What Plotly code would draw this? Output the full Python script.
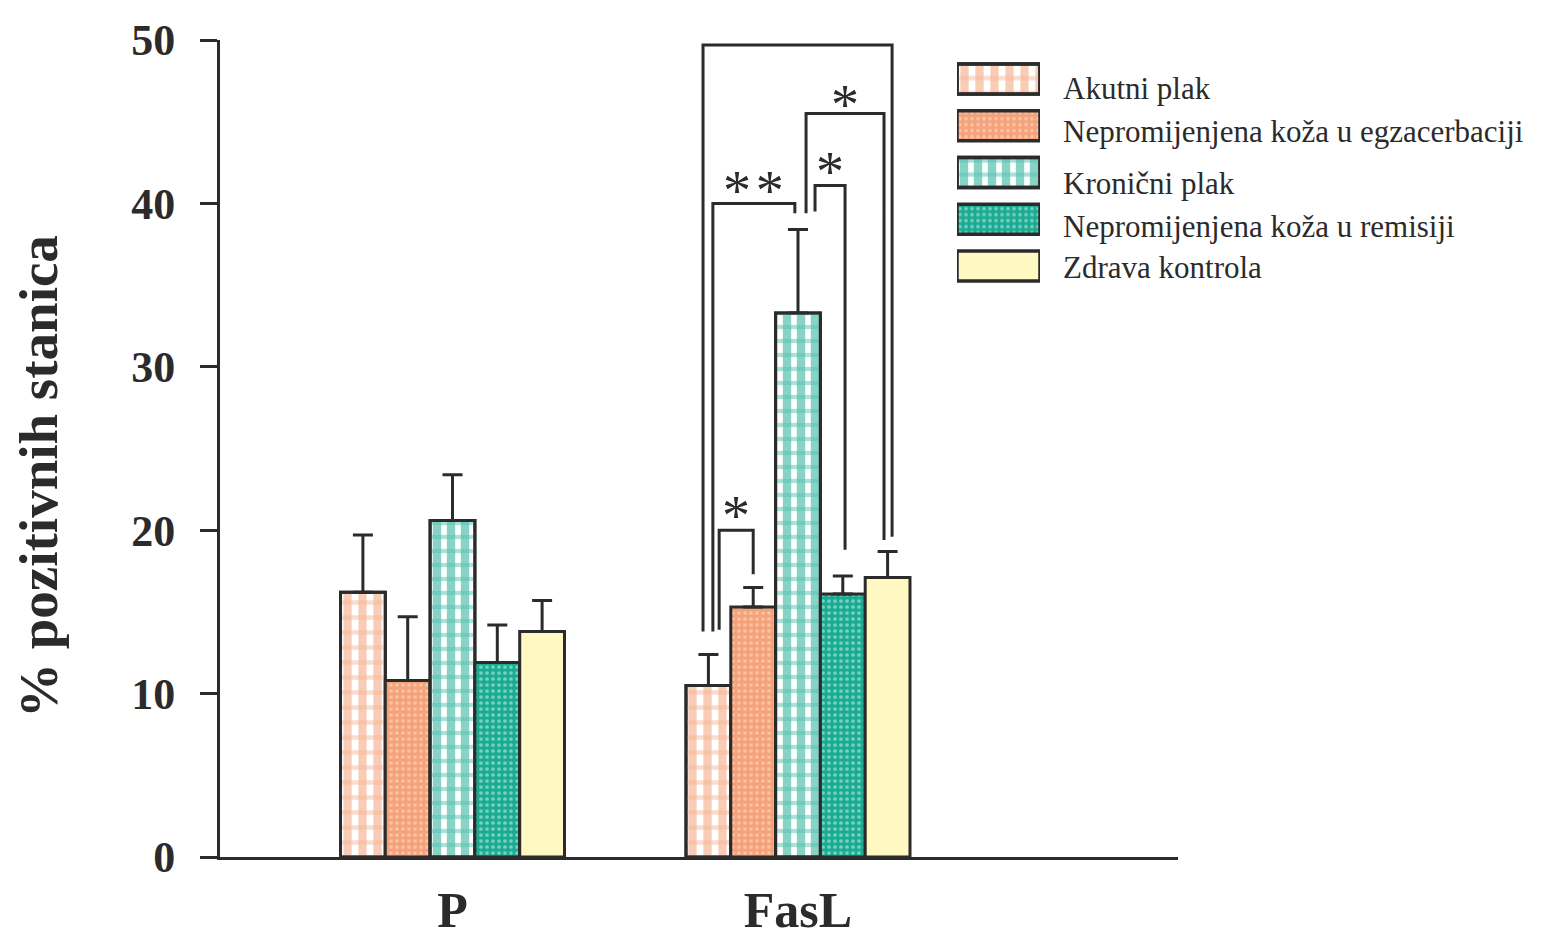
import plotly.graph_objects as go

# ---------------- data ----------------
groups = ["P", "FasL"]
series = ["Akutni plak",
          "Nepromijenjena koža u egzacerbaciji",
          "Kronični plak",
          "Nepromijenjena koža u remisiji",
          "Zdrava kontrola"]

akutni = [16.2, 10.5]
egzacerbacija = [10.8, 15.3]
kronicni = [20.6, 33.3]
remisija = [11.9, 16.1]
zdrava = [13.8, 17.1]

akutni_err = [3.5, 1.9]
egzacerbacija_err = [3.9, 1.2]
kronicni_err = [2.8, 5.1]
remisija_err = [2.3, 1.1]
zdrava_err = [1.9, 1.6]

values = [akutni, egzacerbacija, kronicni, remisija, zdrava]
errors = [akutni_err, egzacerbacija_err, kronicni_err, remisija_err, zdrava_err]

y_ticks = [0, 10, 20, 30, 40, 50]

# significance comparisons within FasL group: (bar a, bar b, label)
comparisons = [(0, 4, "*"), (0, 2, "*\u200a*"), (0, 1, "*"), (2, 4, "*"), (2, 3, "*")]

# ---------------- styling ----------------
INK = "#2b2b2b"
PAGE_OFF = 8                      # body margin of the page
W_FIG, H_FIG = 1543 - PAGE_OFF, 939 - PAGE_OFF
SERIF = "Liberation Serif"


def px_x(px):
    return (px - PAGE_OFF) / W_FIG


def px_y(py):
    return 1 - (py - PAGE_OFF) / H_FIG


styles = [
    dict(color="white", pattern=dict(shape="|", fgcolor="#F39A70", bgcolor="white", size=15, solidity=0.55),
         over=dict(shape="-", fgcolor="#F6BA99", bgcolor="rgba(0,0,0,0)", size=15, solidity=0.3)),
    dict(color="#F5A27B", pattern=dict(shape=".", fgcolor="#FFE4D2", bgcolor="#F5A27B", size=6, solidity=0.3),
         over=None),
    dict(color="white", pattern=dict(shape="|", fgcolor="#12A88D", bgcolor="white", size=14, solidity=0.6),
         over=dict(shape="-", fgcolor="#58C4B1", bgcolor="rgba(0,0,0,0)", size=14, solidity=0.3)),
    dict(color="#19AC92", pattern=dict(shape=".", fgcolor="#D8F3EE", bgcolor="#19AC92", size=6, solidity=0.3),
         over=None),
    dict(color="#FFF8C2", pattern=None, over=None),
]

# geometry (viewport pixels of the reference)
px_left, px_right = 220, 1178
px_top, px_bottom = 40, 857
center_P, center_F = 452.5, 798.0
unit = center_F - center_P
bar_w = 44.8 / unit
x_range = [(px_left - center_P) / unit, (px_right - center_P) / unit]

fig = go.Figure()

for i, name in enumerate(series):
    st = styles[i]
    off = (i - 2.5) * bar_w
    marker = dict(color=st["color"], line=dict(color=INK, width=3))
    if st["pattern"]:
        marker["pattern"] = st["pattern"]
    fig.add_trace(go.Bar(
        x=groups, y=values[i], name=name, offset=off, width=bar_w,
        marker=marker,
        error_y=dict(type="data", symmetric=False, array=errors[i],
                     arrayminus=[0] * len(groups), color=INK, thickness=3, width=10),
        showlegend=False, xaxis="x", yaxis="y"))
    if st["over"]:
        fig.add_trace(go.Bar(
            x=groups, y=values[i], name=name, offset=off, width=bar_w,
            marker=dict(color="rgba(0,0,0,0)", line=dict(color=INK, width=3), pattern=st["over"]),
            showlegend=False, hoverinfo="skip", xaxis="x", yaxis="y"))

# ---------- legend built as a small bar subplot ----------
for i, name in enumerate(series):
    st = styles[i]
    marker = dict(color=st["color"], line=dict(color=INK, width=3.5))
    if st["pattern"]:
        marker["pattern"] = st["pattern"]
    fig.add_trace(go.Bar(x=[1], y=[name], orientation="h", base=0, width=0.64,
                         marker=marker, showlegend=False, xaxis="x2", yaxis="y2",
                         hoverinfo="skip"))
    if st["over"]:
        fig.add_trace(go.Bar(x=[1], y=[name], orientation="h", base=0, width=0.64,
                             marker=dict(color="rgba(0,0,0,0)", line=dict(color=INK, width=3.5),
                                         pattern=st["over"]),
                             showlegend=False, xaxis="x2", yaxis="y2", hoverinfo="skip"))

leg_text_y = [88, 131, 183, 226, 267]
annotations = []
for i, name in enumerate(series):
    annotations.append(dict(text=name, x=px_x(1061), y=px_y(leg_text_y[i]),
                            xref="paper", yref="paper", xanchor="left", yanchor="middle",
                            showarrow=False, font=dict(family=SERIF, size=31, color=INK)))

# y-axis title
annotations.append(dict(text="<b>% pozitivnih stanica</b>", x=px_x(38), y=px_y(477),
                        xref="paper", yref="paper", textangle=-90, showarrow=False,
                        xanchor="center", yanchor="middle",
                        font=dict(family=SERIF, size=55, color=INK)))

# ---------- significance brackets ----------
# per comparison: left nudge, right nudge (in bar widths), left foot, top, right foot, label y
bracket_geom = [
    (-0.12, 0.10, 13.8, 49.7, 19.6, 50.9),
    (0.10, -0.07, 13.8, 40.0, 39.4, 41.3),
    (0.24, 0.00, 13.9, 20.0, 17.3, 21.4),
    (0.18, -0.08, 39.4, 45.5, 19.4, 46.6),
    (0.38, 0.05, 39.5, 41.1, 18.8, 42.5),
]
shapes = []
g = 1  # FasL
for (a, b, lab), (na, nb, ya, yt, yb, ly) in zip(comparisons, bracket_geom):
    xa = g + (a - 2) * bar_w + na * bar_w
    xb = g + (b - 2) * bar_w + nb * bar_w
    shapes.append(dict(type="path", xref="x", yref="y",
                       path=f"M {xa},{ya} L {xa},{yt} L {xb},{yt} L {xb},{yb}",
                       line=dict(color=INK, width=3)))
    annotations.append(dict(text=lab, x=(xa + xb) / 2, y=ly, xref="x", yref="y",
                            showarrow=False, xanchor="center", yanchor="middle", yshift=-9,
                            font=dict(family=SERIF, size=56, color=INK)))

fig.update_layout(
    width=W_FIG, height=H_FIG,
    margin=dict(l=0, r=0, t=0, b=0, autoexpand=False),
    paper_bgcolor="white", plot_bgcolor="rgba(0,0,0,0)",
    barmode="overlay",
    showlegend=False,
    xaxis=dict(domain=[px_x(px_left), px_x(px_right)], range=x_range,
               type="category", categoryarray=groups, automargin=False,
               showline=True, linecolor=INK, linewidth=3, ticks="", showgrid=False,
               zeroline=False, tickfont=dict(family=SERIF, size=50, color=INK),
               tickvals=groups, ticktext=[f"<b>{t}</b>" for t in groups],
               ticklabelstandoff=7, anchor="y"),
    yaxis=dict(domain=[px_y(px_bottom), px_y(px_top)], range=[0, 50],
               automargin=False,
               showline=True, linecolor=INK, linewidth=3, ticks="outside", ticklen=17,
               tickwidth=3, tickcolor=INK, showgrid=False, zeroline=False,
               tickvals=y_ticks, ticktext=[f"<b>{t}</b>" for t in y_ticks],
               tickfont=dict(family=SERIF, size=44, color=INK),
               ticklabelstandoff=16, anchor="x"),
    xaxis2=dict(domain=[px_x(957), px_x(1040)], range=[0, 1], visible=False,
                anchor="y2", fixedrange=True, automargin=False),
    yaxis2=dict(domain=[px_y(289.4), px_y(55.6)], type="category",
                categoryarray=series, range=[4.5, -0.5], visible=False, anchor="x2",
                fixedrange=True, automargin=False),
    shapes=shapes,
    annotations=annotations,
)

fig.write_html("out.html")
